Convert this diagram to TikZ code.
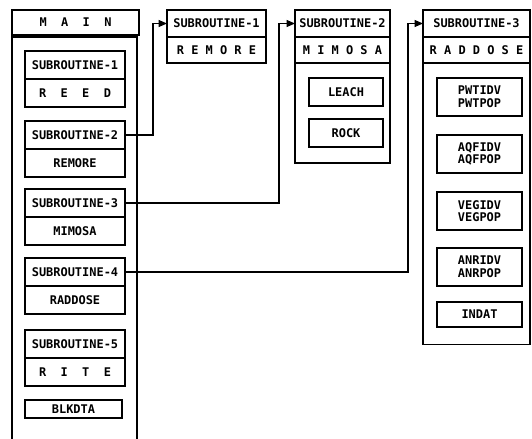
\documentclass[tikz,border=0pt]{standalone}
\usepackage{fontspec}
\setmonofont{DejaVu Sans Mono}
\usetikzlibrary{arrows.meta, positioning}

\begin{document}
\begin{tikzpicture}[x=0.025cm, y=-0.025cm, >={Triangle[length=6pt, width=5pt]},
    font=\ttfamily\bfseries\fontsize{8.5}{9}\selectfont,
    line width=0.8pt,
    row/.style={rectangle, draw, outer sep=0pt, inner sep=1pt},
    mainrow/.style={row, minimum width=2.5cm, minimum height=0.7cm},
    titlerow/.style={row, minimum height=0.675cm},
    namerow/.style={row, minimum height=0.65cm},
    inbox/.style={row, minimum width=2.125cm, minimum height=0.95cm, align=center},
    link/.style={->, line width=0.8pt}
]
\useasboundingbox (0,0) rectangle (532,439);

% === MAIN ===
\node[row, minimum width=3.175cm, minimum height=0.625cm] (main) at (75.5,22.5) {M~~A~~I~~N};
\draw (12,439) |- (137,37) -- (137,439);

\foreach \i/\y/\name in {1/65/R~~E~~E~~D, 2/135/REMORE, 3/203/MIMOSA, 4/272/RADDOSE, 5/344/R~~I~~T~~E} {
    \node[mainrow] (m\i) at (75,\y) {SUBROUTINE-\i};
    \node[mainrow, below=0pt of m\i] (n\i) {\name};
}
\node[row, minimum width=2.425cm, minimum height=0.45cm] (blk) at (73.5,409) {BLKDTA};

% === SUBROUTINE-1: REMORE ===
\node[titlerow, minimum width=2.475cm] (r1) at (216.5,23.5) {SUBROUTINE-1};
\node[namerow, minimum width=2.475cm, below=0pt of r1] (r1n) {R E M O R E};

% === SUBROUTINE-2: MIMOSA ===
\node[titlerow, minimum width=2.375cm] (r2) at (342.5,23.5) {SUBROUTINE-2};
\node[namerow, minimum width=2.375cm, below=0pt of r2] (r2n) {M I M O S A};
\node[row, minimum width=2.375cm, minimum height=2.5cm, below=0pt of r2n] (r2b) {};
\node[inbox, minimum width=1.85cm, minimum height=0.7cm] (leach) at (346,92) {LEACH};
\node[inbox, minimum width=1.85cm, minimum height=0.7cm] (rock) at (346,133) {ROCK};

% === SUBROUTINE-3: RADDOSE ===
\node[titlerow, minimum width=2.675cm] (r3) at (476.5,23.5) {SUBROUTINE-3};
\node[namerow, minimum width=2.675cm, below=0pt of r3] (r3n) {R A D D O S E};
\node[row, minimum width=2.675cm, minimum height=7.025cm, below=0pt of r3n] (r3b) {};
\foreach \k/\y in {PWT/97, AQF/154, VEG/211, ANR/267} {
    \node[inbox] (\k) at (479.5,\y) {\k IDV\\\k POP};
}
\node[inbox, minimum height=0.625cm] (indat) at (479.5,314.5) {INDAT};

% === Llamadas ===
\draw[link] (m2.east) -- ++(28,0) |- (r1.west);
\draw[link] (m3.east) -- ++(154,0) |- (r2.west);
\draw[link] (m4.east) -- ++(283,0) |- (r3.west);

\end{tikzpicture}
\end{document}
